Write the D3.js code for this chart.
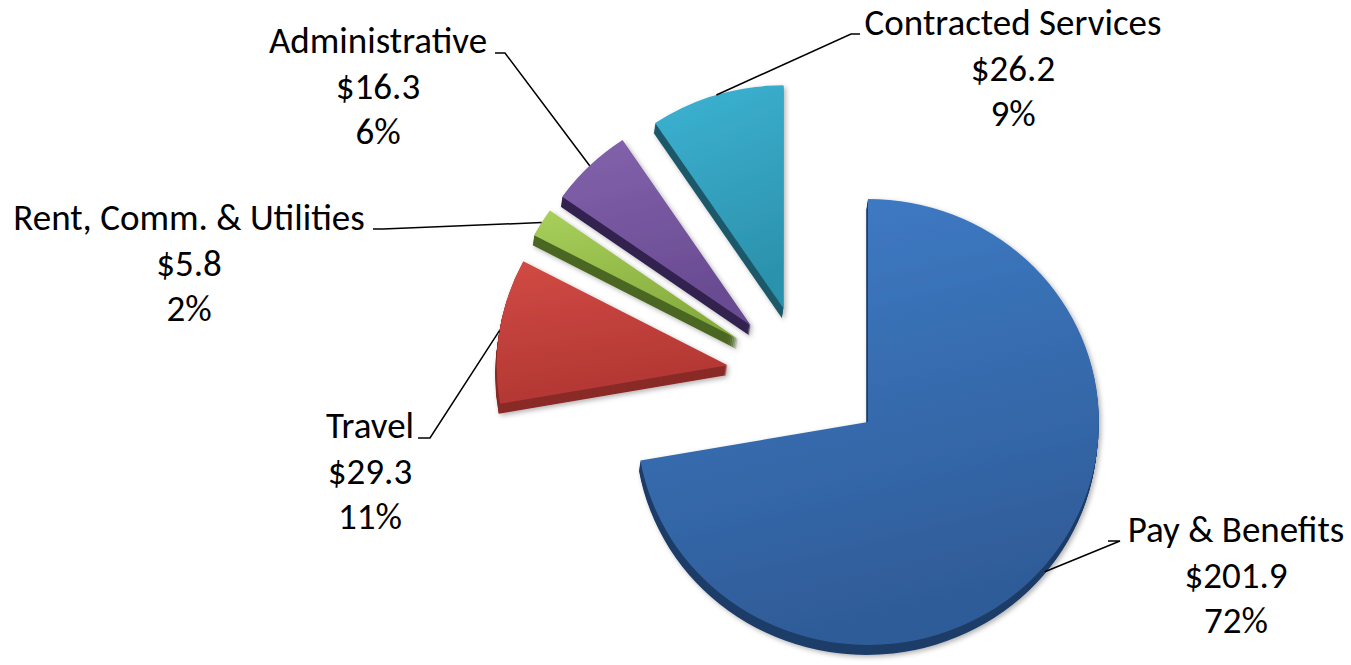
<!DOCTYPE html>
<html><head><meta charset="utf-8">
<script src="https://cdn.jsdelivr.net/npm/d3@7"></script>
<style>html,body{margin:0;padding:0;background:#fff;overflow:hidden}</style>
</head><body>
<svg id="chart" width="1351" height="665"></svg>
<script>
// ---- data ----
const categories = ["Pay & Benefits", "Travel", "Rent, Comm. & Utilities", "Administrative", "Contracted Services"];
const values = [201.9, 29.3, 5.8, 16.3, 26.2];
const valueLabels = ["$201.9", "$29.3", "$5.8", "$16.3", "$26.2"];
const percentLabels = ["72%", "11%", "2%", "6%", "9%"];

// ---- style ----
const topColors    = ["#3f7dc8", "#d14a45", "#a8d05b", "#8462ad", "#3db3d3"];
const bottomColors = ["#2f5c98", "#b23733", "#86ac3d", "#684b91", "#2c92ad"];
const sideColors   = ["#1f3d68", "#8a2a27", "#4c6722", "#33224f", "#1d5a6b"];

// ---- layout ----
const W = 1351, H = 665;
const rx = 231, ry = 223;
const center = [806.7, 376.3];
const explodeX = 80, explodeY = 71;
const depth = 10;
const lineGap = 45.5;
const labelLayout = [
  {x: 1236, y: 542, end: [1108, 541], elbow: [1120, 541]},
  {x: 370,  y: 438, end: [418, 438],  elbow: [430, 438]},
  {x: 189,  y: 230, end: [373, 229],  elbow: [383, 229]},
  {x: 378,  y: 53,  end: [495, 53],   elbow: [505, 53]},
  {x: 1013, y: 35,  end: [860, 34],   elbow: [851, 34]}
];

const svg = d3.select("#chart");
const defs = svg.append("defs");

const f = defs.append("filter").attr("id", "shadow")
  .attr("x", "-20%").attr("y", "-20%").attr("width", "140%").attr("height", "140%");
f.append("feDropShadow").attr("dx", 2).attr("dy", 2).attr("stdDeviation", 2.5)
  .attr("flood-color", "#000").attr("flood-opacity", 0.3);

values.forEach((v, i) => {
  const g = defs.append("linearGradient").attr("id", "grad" + i)
    .attr("x1", 0).attr("y1", 0).attr("x2", 0.25).attr("y2", 1);
  g.append("stop").attr("offset", "0%").attr("stop-color", topColors[i]);
  g.append("stop").attr("offset", "100%").attr("stop-color", bottomColors[i]);
});

const pie = d3.pie().sort(null).value(d => d);
const arcs = pie(values);
const arc = d3.arc().innerRadius(0).outerRadius(rx);
const sy = ry / rx;

const apexes = arcs.map(a => {
  const m = (a.startAngle + a.endAngle) / 2;
  return [center[0] + explodeX * Math.sin(m), center[1] - explodeY * Math.cos(m)];
});

const slices = svg.append("g");
arcs.forEach((a, i) => {
  const g = slices.append("g")
    .attr("transform", `translate(${apexes[i][0]},${apexes[i][1]})`)
    .attr("filter", "url(#shadow)");
  for (let k = depth; k >= 1; k--) {
    g.append("path").attr("d", arc(a))
      .attr("transform", `translate(${-0.15 * k},${k}) scale(1,${sy})`)
      .attr("fill", sideColors[i]);
  }
  g.append("path").attr("d", arc(a))
    .attr("transform", `scale(1,${sy})`)
    .attr("fill", `url(#grad${i})`);
});

// leader lines
const leaders = svg.append("g");
arcs.forEach((a, i) => {
  const m = (a.startAngle + a.endAngle) / 2;
  const c = Math.cos(m);
  const p = [apexes[i][0] + rx * Math.sin(m), apexes[i][1] - ry * c + (c < 0 ? depth * -c : 0)];
  const L = labelLayout[i];
  leaders.append("path")
    .attr("d", d3.line()([p, L.elbow, L.end]))
    .attr("fill", "none").attr("stroke", "#000").attr("stroke-width", 1.5);
});

// labels
const family = "Carlito, Lato, 'Open Sans', sans-serif";
const probe = svg.append("text").attr("font-family", family).attr("font-size", 37).text("Contracted Services");
const measured = probe.node().getComputedTextLength();
probe.remove();
const fs = 37 * 297 / measured;

const labels = svg.append("g").attr("font-family", family).attr("font-size", fs)
  .attr("fill", "#000").attr("text-anchor", "middle");
categories.forEach((c, i) => {
  const L = labelLayout[i];
  [c, valueLabels[i], percentLabels[i]].forEach((t, j) => {
    labels.append("text").attr("x", L.x).attr("y", L.y + j * lineGap).text(t);
  });
});
</script>
</body></html>
